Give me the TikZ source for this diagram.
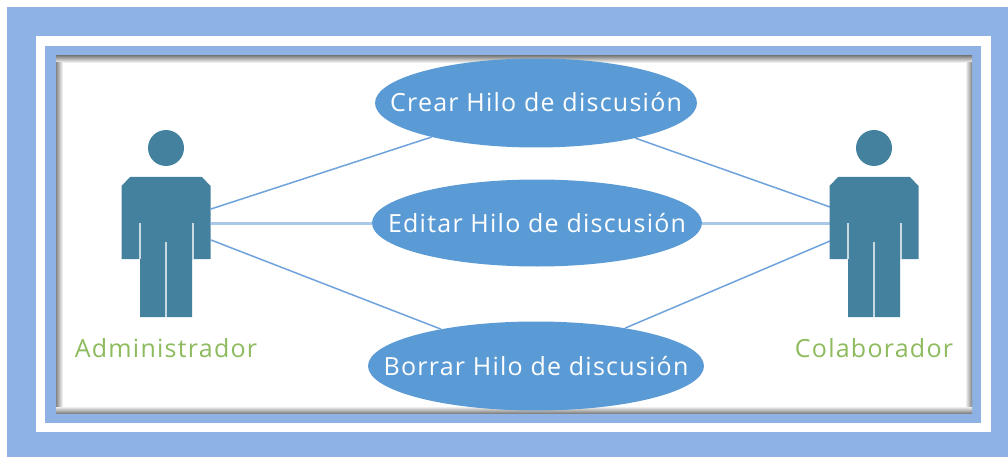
\documentclass[tikz,border=0pt]{standalone}
\usepackage{fontspec}
\setmainfont{Open Sans}
\newfontfamily\labelfont[LetterSpace=5]{Open Sans}
\usetikzlibrary{shapes.geometric}
\definecolor{frameblue}{HTML}{8DB2E3}
\definecolor{actorteal}{HTML}{44819F}
\definecolor{ovalblue}{HTML}{5B9BD5}
\definecolor{linkblue}{HTML}{6FA3DC}
\definecolor{linklight}{HTML}{A9C8EA}
\definecolor{labelgreen}{HTML}{8DBB5E}
\newcommand{\slimtext}[1]{\makebox[0pt][c]{\raisebox{-9pt}[0pt][0pt]{#1}}}
\tikzset{
  x=1pt,y=-1pt,
  usecase/.style={ellipse,fill=ovalblue,draw=none,inner sep=0pt,text=white,font=\labelfont\fontsize{25}{28}\selectfont},
  actorlabel/.style={text=labelgreen,font=\labelfont\fontsize{25}{28}\selectfont,inner sep=0pt},
  thinlink/.style={draw=linkblue,line width=1.5pt},
  thicklink/.style={draw=linklight,line width=3pt},
  actorshape/.style={fill=actorteal,draw=none},
  slit/.style={fill=white!70!actorteal,draw=none}
}
\newcommand{\actorfig}[1]{%
  \begin{scope}[shift={(#1,0)}]
    \fill[actorshape] (0,148) circle[radius=18];
    \fill[actorshape] (-36,177) -- (36,177) -- (44.5,186) -- (44.5,259) -- (26,259) -- (26,317)
      -- (-26,317) -- (-26,259) -- (-44.5,259) -- (-44.5,186) -- cycle;
    \fill[slit] (-27.5,223) rectangle (-25.5,259);
    \fill[slit] (25.5,223) rectangle (27.5,259);
    \fill[slit] (-1,242) rectangle (1,317);
  \end{scope}}
\begin{document}
\begin{tikzpicture}
\useasboundingbox (0,0) rectangle (1008,457);
\fill[white] (0,0) rectangle (1008,457);
\fill[frameblue] (7,7) rectangle (1008,457);
\fill[white] (36,36) rectangle (991,432);
\fill[frameblue] (45,46) rectangle (981,423);
\fill[white] (56,56) rectangle (972,413);
% inner shadow of the panel
\shade[top color=black!48,middle color=black!8,bottom color=white] (56,56) rectangle (972,63);
\shade[top color=white,middle color=black!8,bottom color=black!48] (56,406) rectangle (972,413);
\shade[left color=black!48,middle color=black!8,right color=white] (56,63) rectangle (63,406);
\shade[left color=white,middle color=black!8,right color=black!48] (965,63) rectangle (972,406);
% anchor points on the actors
\coordinate (lt) at (211,209);
\coordinate (lm) at (211,223);
\coordinate (lb) at (211,240);
\coordinate (rt) at (830,207);
\coordinate (rm) at (830,223);
\coordinate (rb) at (830,241);
\node[usecase,minimum width=322,minimum height=89] (crear) at (536,103) {\slimtext{Crear Hilo de discusión}};
\node[usecase,minimum width=330,minimum height=87] (editar) at (537,223) {\slimtext{Editar Hilo de discusión}};
\node[usecase,minimum width=336,minimum height=89] (borrar) at (536,366) {\slimtext{Borrar Hilo de discusión}};
\draw[thinlink] (lt) -- (crear);
\draw[thicklink] (lm) -- (editar);
\draw[thinlink] (lb) -- (borrar);
\draw[thinlink] (rt) -- (crear);
\draw[thicklink] (rm) -- (editar);
\draw[thinlink] (rb) -- (borrar);
\actorfig{166}
\actorfig{874}
\node[actorlabel] (admin) at (166,348) {Administrador};
\node[actorlabel] (colab) at (874,348) {Colaborador};
\end{tikzpicture}
\end{document}
